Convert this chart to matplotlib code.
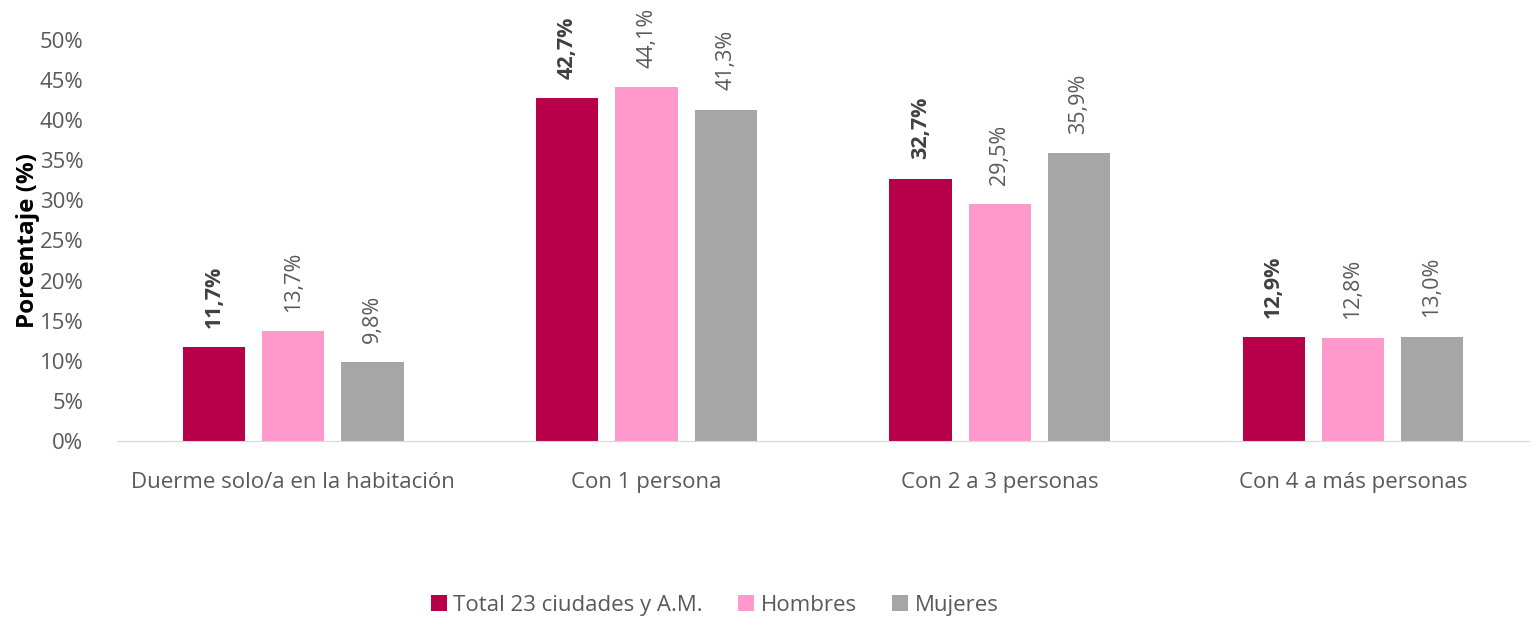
import numpy as np
import matplotlib.pyplot as plt

plt.rcParams['font.family'] = ['Open Sans', 'DejaVu Sans']

categorias = ['Duerme solo/a en la habitación', 'Con 1 persona', 'Con 2 a 3 personas', 'Con 4 a más personas']
series = ['Total 23 ciudades y A.M.', 'Hombres', 'Mujeres']
total = [11.7, 42.7, 32.7, 12.9]
hombres = [13.7, 44.1, 29.5, 12.8]
mujeres = [9.8, 41.3, 35.9, 13.0]
colores = ['#B8004A', '#FF99CC', '#A6A6A6']

gris = '#595959'
fig = plt.figure(figsize=(15.37, 6.19), dpi=100)
ax = fig.add_axes([0.076, 0.2876, 0.919, 0.648])

x = np.arange(len(categorias))
w = 0.176
off = 0.224
for i, (vals, nom, c) in enumerate(zip([total, hombres, mujeres], series, colores)):
    xs = x + (i - 1) * off
    ax.bar(xs, vals, width=w, color=c, label=nom, zorder=2)
    for xi, v in zip(xs, vals):
        ax.text(xi, v + 2.4, f'{v:.1f}%'.replace('.', ','), rotation=90,
                ha='center', va='bottom', fontsize=15.5, color=gris if i else '#404040',
                fontweight='bold' if i == 0 else 'normal', clip_on=False)

ax.set_xlim(-0.5, 3.5)
ax.set_ylim(0, 50)
ax.set_yticks(np.arange(0, 51, 5))
ax.set_yticklabels([f'{t}%' for t in range(0, 51, 5)])
ax.set_xticks(x)
ax.set_xticklabels(categorias)
ax.tick_params(axis='both', length=0, labelsize=16, labelcolor=gris)
ax.tick_params(axis='x', pad=22)
ax.tick_params(axis='y', pad=24)
for s in ['top', 'right', 'left']:
    ax.spines[s].set_visible(False)
ax.spines['bottom'].set_color('#D9D9D9')
ax.set_ylabel('Porcentaje (%)', fontsize=17.5, fontweight='bold', color='black', labelpad=0)

fig.legend(loc='center', bbox_to_anchor=(0.465, 0.022), ncol=3, frameon=False,
           fontsize=16, labelcolor=gris, handlelength=0.7, handleheight=0.7,
           handletextpad=0.3, columnspacing=1.6)

plt.savefig('out.png', dpi=100)
